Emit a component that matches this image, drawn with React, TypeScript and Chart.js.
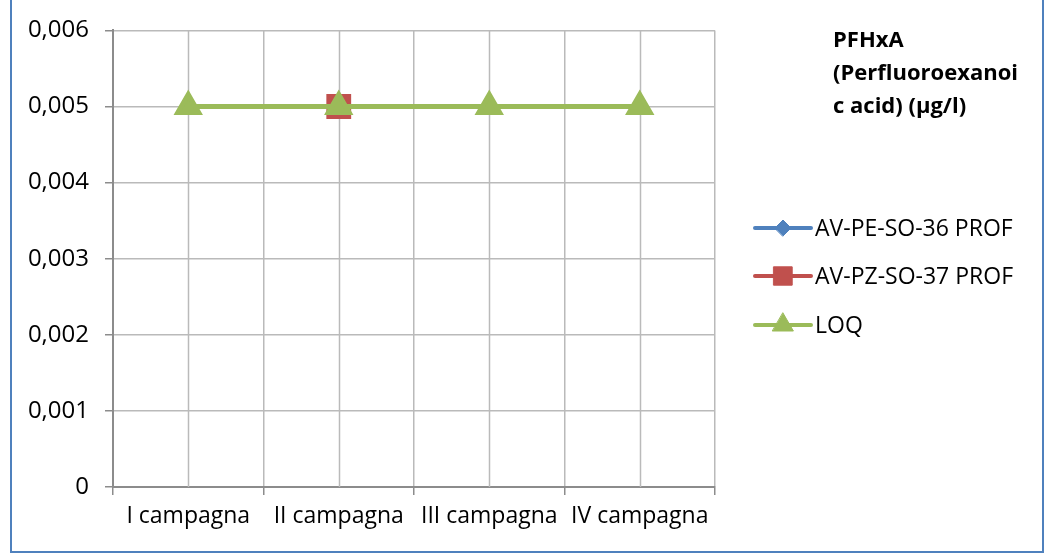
import React, { useEffect, useRef } from 'react';
import { Chart, registerables } from 'chart.js';
import { drawPoint } from 'chart.js/helpers';

Chart.register(...registerables);

const categories = ['I campagna', 'II campagna', 'III campagna', 'IV campagna'];
const seriesNames = ['AV-PE-SO-36 PROF', 'AV-PZ-SO-37 PROF', 'LOQ'];
const pe36Values: (number | null)[] = [null, null, null, null];
const pz37Values: (number | null)[] = [null, 0.005, null, null];
const loqValues: (number | null)[] = [0.005, 0.005, 0.005, 0.005];
const yMin = 0;
const yMax = 0.006;
const yStep = 0.001;
const titleLines = ['PFHxA', '(Perfluoroexanoi', 'c acid) (µg/l)'];

const FONT = '"Open Sans", "Liberation Sans", sans-serif';
const GRID = '#bababa';
const AXIS = '#8c8c8c';

const centerGridPlugin = {
  id: 'centerGrid',
  beforeDatasetsDraw(chart: any) {
    const { ctx, chartArea, scales } = chart;
    const x = scales.x;
    ctx.save();
    ctx.strokeStyle = GRID;
    ctx.lineWidth = 1.5;
    for (let i = 0; i < categories.length; i++) {
      const px = Math.round(x.getPixelForValue(i)) + 0.5;
      ctx.beginPath();
      ctx.moveTo(px, chartArea.top);
      ctx.lineTo(px, chartArea.bottom);
      ctx.stroke();
    }
    ctx.restore();
  },
};

const sideLegendPlugin = {
  id: 'sideLegend',
  afterDraw(chart: any) {
    const { ctx, chartArea } = chart;
    ctx.save();
    ctx.fillStyle = '#000';
    ctx.font = `bold 22px ${FONT}`;
    ctx.textBaseline = 'middle';
    ctx.textAlign = 'left';
    const tx = chartArea.right + 118;
    titleLines.forEach((t, i) => ctx.fillText(t, tx, 41 + i * 33));
    const lx0 = chartArea.right + 40;
    const lx1 = chartArea.right + 96;
    const ys = [228, 276, 325];
    chart.data.datasets.forEach((ds: any, i: number) => {
      const y = ys[i];
      ctx.strokeStyle = ds.borderColor;
      ctx.lineWidth = 4;
      ctx.lineCap = 'round';
      ctx.beginPath();
      ctx.moveTo(lx0, y);
      ctx.lineTo(lx1, y);
      ctx.stroke();
      ctx.fillStyle = ds.pointBackgroundColor;
      ctx.strokeStyle = ds.pointBorderColor;
      ctx.lineWidth = 1;
      drawPoint(ctx, { pointStyle: ds.pointStyle, radius: ds.legendRadius, rotation: 0, borderWidth: 1 } as any, (lx0 + lx1) / 2, y);
      ctx.fillStyle = '#000';
      ctx.font = `23px ${FONT}`;
      ctx.fillText(ds.label, lx1 + 4, y + 1);
    });
    ctx.restore();
  },
};

export default function App() {
  const ref = useRef<HTMLCanvasElement | null>(null);
  useEffect(() => {
    if (!ref.current) return;
    const chart = new Chart(ref.current, {
      type: 'line',
      data: {
        labels: categories,
        datasets: [
          {
            label: seriesNames[0],
            data: pe36Values,
            borderColor: '#4f81bd',
            backgroundColor: '#4f81bd',
            pointBackgroundColor: '#4f81bd',
            pointBorderColor: '#4f81bd',
            pointStyle: 'rectRot',
            pointRadius: 9,
            borderWidth: 5,
            order: 3,
            legendRadius: 8,
          } as any,
          {
            label: seriesNames[1],
            data: pz37Values,
            borderColor: '#c0504d',
            backgroundColor: '#c0504d',
            pointBackgroundColor: '#c0504d',
            pointBorderColor: '#c0504d',
            pointStyle: 'rect',
            pointRadius: 14,
            borderWidth: 5,
            order: 2,
            legendRadius: 13,
          } as any,
          {
            label: seriesNames[2],
            data: loqValues,
            borderColor: '#9bbb59',
            backgroundColor: '#9bbb59',
            pointBackgroundColor: '#9bbb59',
            pointBorderColor: '#9bbb59',
            pointStyle: 'triangle',
            pointRadius: 12,
            borderWidth: 5,
            order: 1,
            legendRadius: 12,
          } as any,
        ],
      },
      options: {
        responsive: false,
        animation: false,
        devicePixelRatio: 1,
        layout: { padding: { left: 0, right: 345, top: 27, bottom: 0 } },
        plugins: {
          legend: { display: false },
          tooltip: { enabled: false },
          title: { display: false },
        },
        scales: {
          x: {
            type: 'category',
            offset: true,
            grid: {
              offset: true,
              color: GRID,
              lineWidth: 1.5,
              tickLength: 8,
              tickColor: AXIS,
              drawTicks: true,
            },
            border: { color: AXIS, width: 2 },
            ticks: {
              color: '#000',
              font: { family: FONT, size: 23 },
              padding: 8,
              maxRotation: 0,
              autoSkip: false,
            },
            afterFit(scale: any) {
              scale.height = 69;
            },
          },
          y: {
            min: yMin,
            max: yMax,
            grid: {
              color: GRID,
              lineWidth: 1.5,
              tickLength: 8,
              tickColor: AXIS,
            },
            border: { color: AXIS, width: 2 },
            ticks: {
              stepSize: yStep,
              color: '#000',
              font: { family: FONT, size: 24 },
              padding: 16,
              callback: (v: any) => {
                const n = Number(v);
                if (Math.abs(n) < 1e-12) return '0';
                return n.toFixed(3).replace('.', ',');
              },
            },
            afterFit(scale: any) {
              scale.width = 113;
            },
          },
        },
      },
      plugins: [centerGridPlugin, sideLegendPlugin],
    });
    return () => chart.destroy();
  }, []);

  return (
    <div style={{ position: 'fixed', left: 0, top: 0, width: 1060, height: 556, background: '#fff', overflow: 'hidden' }}>
      <canvas ref={ref} width={1060} height={556} style={{ position: 'absolute', left: 0, top: 0, width: 1060, height: 556 }} />
      <div
        style={{
          position: 'absolute',
          left: 10,
          top: -10,
          width: 1034,
          height: 563,
          boxSizing: 'border-box',
          border: '2px solid #4f81bd',
          pointerEvents: 'none',
        }}
      />
    </div>
  );
}
